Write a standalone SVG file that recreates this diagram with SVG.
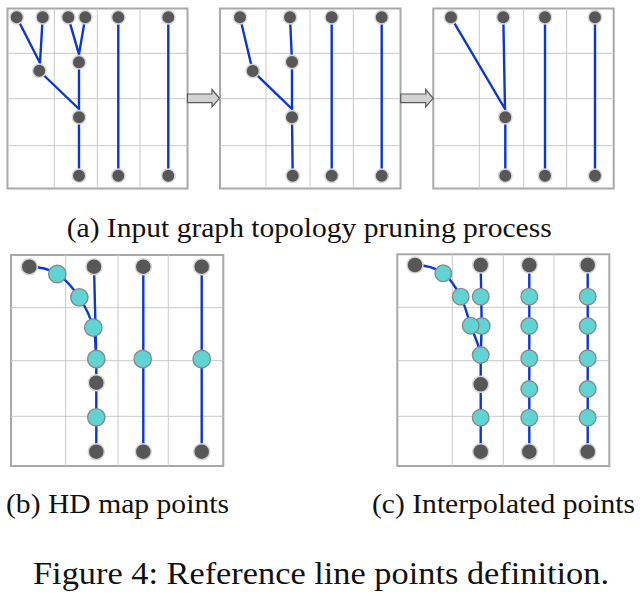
<svg xmlns="http://www.w3.org/2000/svg" width="642" height="594" viewBox="0 0 642 594">
<defs>
<style>
.box{fill:#fff;stroke:#a8a8a8;stroke-width:2}
.grid{stroke:#c8c8c8;stroke-width:1;fill:none}
.edge{stroke:#0a36d8;stroke-width:2.4;fill:none;stroke-linecap:round}
.dk{fill:#575757;stroke:#d6d6d6;stroke-width:1.5}
.cy{fill:#5fd4d2;stroke:#8a8a8a;stroke-width:1.4}
.arr{fill:#d2d2d2;stroke:#5a5a5a;stroke-width:1.2}
.cap{font-family:"Liberation Serif","Times New Roman",serif;fill:#111}
</style>
</defs>
<rect width="642" height="594" fill="#fff"/>

<!-- panel frames and grids -->
<g id="frames">
<rect class="box" x="7.5" y="8.5" width="180" height="180"/>
<path class="grid" d="M54.3,8.5V188.5M97.3,8.5V188.5M140,8.5V188.5M7.5,53.3H187.5M7.5,98.7H187.5M7.5,145.7H187.5"/>
<rect class="box" x="220" y="8.5" width="180.5" height="180"/>
<path class="grid" d="M266,8.5V188.5M310,8.5V188.5M353.3,8.5V188.5M220,53.3H400.5M220,98.7H400.5M220,145.7H400.5"/>
<rect class="box" x="433.3" y="8.5" width="180.4" height="180"/>
<path class="grid" d="M479.3,8.5V188.5M523.7,8.5V188.5M566.7,8.5V188.5M433.3,53.3H613.7M433.3,98.7H613.7M433.3,145.7H613.7"/>
<rect class="box" x="11" y="255" width="212.3" height="211"/>
<path class="grid" d="M65.7,255V466M118,255V466M168.3,255V466M11,307.7H223.3M11,360.7H223.3M11,416.3H223.3"/>
<rect class="box" x="397.3" y="254.3" width="212" height="211.7"/>
<path class="grid" d="M452.3,254.3V466M503.3,254.3V466M554,254.3V466M397.3,307.3H609.3M397.3,360.7H609.3M397.3,416.3H609.3"/>
<polygon class="arr" points="187.5,94 212,94 212,89.5 219.5,98.3 212,107 212,102.6 187.5,102.6"/>
<polygon class="arr" points="400.7,94 425.7,94 425.7,89.5 433.2,98.3 425.7,107 425.7,102.6 400.7,102.6"/>
</g>

<g id="connectors">
<!-- box 1 -->
<path class="edge" d="M16.7,17.3L40,63M42.7,17.3L40,63M68.3,17.3L79,54.3M85.3,17.3L79,54.3M79,54.3V175.7M39.3,71L79,109M118.3,17.3V175.7M168.3,17.3V175.7"/>
<!-- box 2 -->
<path class="edge" d="M240,17.3L252.7,71M290,17.3L292,62M292,62V117.3L292.7,175.7M252.7,71L292,109M331.7,17.3V175.7M381.7,17.3V175.7"/>
<!-- box 3 -->
<path class="edge" d="M451,17.3L505,109M503.3,17.3L505,109M505.3,109V175.7M545,17.3V175.7M595,17.3V175.7"/>
<!-- panel b -->
<path class="edge" d="M29.3,266.7C38.6,266.7 49,268.9 57.3,274C65.6,279.1 73.3,288.4 79.3,297.3C85.3,306.3 90.5,317.4 93.3,327.7C96.1,338 95.3,348.6 96.3,359"/>
<path class="edge" d="M94,266.7L96.3,359V451.7M143.3,266.7V451.7M201.7,266.7V451.7"/>
<!-- panel c -->
<path class="edge" d="M415,265C424.3,265 435.7,268 443.3,273.3C450.9,278.6 456.1,288 460.7,296.7C465.3,305.4 467.4,316 470.7,325.7C474,335.4 479.4,345.3 480.7,355"/>
<path class="edge" d="M480.7,265L481.7,326L480.7,355V451.7M529.3,265V451.7M587.7,265V451.7"/>
</g>

<!-- panel a nodes -->
<g id="a1n1"><circle class="dk" cx="16.7" cy="17.3" r="6.7"/></g>
<g id="a1n2"><circle class="dk" cx="42.7" cy="17.3" r="6.7"/></g>
<g id="a1n3"><circle class="dk" cx="68.3" cy="17.3" r="6.7"/></g>
<g id="a1n4"><circle class="dk" cx="85.3" cy="17.3" r="6.7"/></g>
<g id="a1n5"><circle class="dk" cx="118.3" cy="17.3" r="6.7"/></g>
<g id="a1n6"><circle class="dk" cx="168.3" cy="17.3" r="6.7"/></g>
<g id="a1n7"><circle class="dk" cx="39.3" cy="70.7" r="6.7"/></g>
<g id="a1n8"><circle class="dk" cx="79" cy="62.3" r="6.7"/></g>
<g id="a1n9"><circle class="dk" cx="79" cy="117.3" r="6.7"/></g>
<g id="a1n10"><circle class="dk" cx="79" cy="175.7" r="6.7"/></g>
<g id="a1n11"><circle class="dk" cx="118.3" cy="175.7" r="6.7"/></g>
<g id="a1n12"><circle class="dk" cx="168.3" cy="175.7" r="6.7"/></g>

<g id="a2n1"><circle class="dk" cx="240" cy="17.3" r="6.7"/></g>
<g id="a2n2"><circle class="dk" cx="290" cy="17.3" r="6.7"/></g>
<g id="a2n3"><circle class="dk" cx="331.7" cy="17.3" r="6.7"/></g>
<g id="a2n4"><circle class="dk" cx="381.7" cy="17.3" r="6.7"/></g>
<g id="a2n5"><circle class="dk" cx="252.7" cy="71" r="6.7"/></g>
<g id="a2n6"><circle class="dk" cx="292" cy="62" r="6.7"/></g>
<g id="a2n7"><circle class="dk" cx="292" cy="117.3" r="6.7"/></g>
<g id="a2n8"><circle class="dk" cx="292.7" cy="175.7" r="6.7"/></g>
<g id="a2n9"><circle class="dk" cx="331.7" cy="175.7" r="6.7"/></g>
<g id="a2n10"><circle class="dk" cx="381.7" cy="175.7" r="6.7"/></g>

<g id="a3n1"><circle class="dk" cx="451" cy="17.3" r="6.7"/></g>
<g id="a3n2"><circle class="dk" cx="503.3" cy="17.3" r="6.7"/></g>
<g id="a3n3"><circle class="dk" cx="545" cy="17.3" r="6.7"/></g>
<g id="a3n4"><circle class="dk" cx="595" cy="17.3" r="6.7"/></g>
<g id="a3n5"><circle class="dk" cx="505.3" cy="117.3" r="6.7"/></g>
<g id="a3n6"><circle class="dk" cx="505.3" cy="175.7" r="6.7"/></g>
<g id="a3n7"><circle class="dk" cx="545" cy="175.7" r="6.7"/></g>
<g id="a3n8"><circle class="dk" cx="595" cy="175.7" r="6.7"/></g>

<!-- panel b nodes -->
<g id="bd1"><circle class="dk" cx="29.3" cy="266.7" r="8"/></g>
<g id="bd2"><circle class="dk" cx="94" cy="266.7" r="8"/></g>
<g id="bd3"><circle class="dk" cx="143.3" cy="266.7" r="8"/></g>
<g id="bd4"><circle class="dk" cx="201.7" cy="266.7" r="8"/></g>
<g id="bd5"><circle class="dk" cx="96.3" cy="382.7" r="8"/></g>
<g id="bd6"><circle class="dk" cx="96.3" cy="451.7" r="8"/></g>
<g id="bd7"><circle class="dk" cx="143.3" cy="451.7" r="8"/></g>
<g id="bd8"><circle class="dk" cx="201.7" cy="451.7" r="8"/></g>
<g id="bc1"><circle class="cy" cx="57.3" cy="274" r="8.7"/></g>
<g id="bc2"><circle class="cy" cx="79.3" cy="297.3" r="8.7"/></g>
<g id="bc3"><circle class="cy" cx="93.3" cy="327.7" r="8.7"/></g>
<g id="bc4"><circle class="cy" cx="96.3" cy="359" r="8.7"/></g>
<g id="bc5"><circle class="cy" cx="142.7" cy="359" r="8.7"/></g>
<g id="bc6"><circle class="cy" cx="201.7" cy="359" r="8.7"/></g>
<g id="bc7"><circle class="cy" cx="96.3" cy="417.3" r="8.7"/></g>

<!-- panel c nodes -->
<g id="cd1"><circle class="dk" cx="415" cy="265" r="8"/></g>
<g id="cd2"><circle class="dk" cx="480.7" cy="265" r="8"/></g>
<g id="cd3"><circle class="dk" cx="529.3" cy="265" r="8"/></g>
<g id="cd4"><circle class="dk" cx="587.7" cy="265" r="8"/></g>
<g id="cd5"><circle class="dk" cx="480.7" cy="384.3" r="8"/></g>
<g id="cd6"><circle class="dk" cx="480.7" cy="451.7" r="8"/></g>
<g id="cd7"><circle class="dk" cx="529.3" cy="451.7" r="8"/></g>
<g id="cd8"><circle class="dk" cx="587.7" cy="451.7" r="8"/></g>
<g id="cc1"><circle class="cy" cx="480.7" cy="296.7" r="8.3"/></g>
<g id="cc2"><circle class="cy" cx="481.7" cy="326" r="8.3"/></g>
<g id="cc3"><circle class="cy" cx="480.7" cy="355" r="8.3"/></g>
<g id="cc4"><circle class="cy" cx="480.7" cy="417.7" r="8.3"/></g>
<g id="cc5"><circle class="cy" cx="529.3" cy="296.7" r="8.3"/></g>
<g id="cc6"><circle class="cy" cx="529.3" cy="326" r="8.3"/></g>
<g id="cc7"><circle class="cy" cx="529.3" cy="358.3" r="8.3"/></g>
<g id="cc8"><circle class="cy" cx="529.3" cy="389" r="8.3"/></g>
<g id="cc9"><circle class="cy" cx="529.3" cy="417.7" r="8.3"/></g>
<g id="cc10"><circle class="cy" cx="587.7" cy="296.7" r="8.3"/></g>
<g id="cc11"><circle class="cy" cx="587.7" cy="326" r="8.3"/></g>
<g id="cc12"><circle class="cy" cx="587.7" cy="358.3" r="8.3"/></g>
<g id="cc13"><circle class="cy" cx="587.7" cy="389" r="8.3"/></g>
<g id="cc14"><circle class="cy" cx="587.7" cy="417.7" r="8.3"/></g>
<g id="cc15"><circle class="cy" cx="443.3" cy="273.3" r="8.3"/></g>
<g id="cc16"><circle class="cy" cx="460.7" cy="296.7" r="8.3"/></g>
<g id="cc17"><circle class="cy" cx="470.7" cy="325.7" r="8.3"/></g>

<!-- captions -->
<g id="captions">
<text class="cap" x="66.7" y="237" font-size="28" textLength="485" lengthAdjust="spacingAndGlyphs">(a) Input graph topology pruning process</text>
<text class="cap" x="6" y="512.5" font-size="28" textLength="223" lengthAdjust="spacingAndGlyphs">(b) HD map points</text>
<text class="cap" x="372" y="512.5" font-size="28" textLength="263" lengthAdjust="spacingAndGlyphs">(c) Interpolated points</text>
<text class="cap" x="33" y="584" font-size="32" textLength="576" lengthAdjust="spacingAndGlyphs">Figure 4: Reference line points definition.</text>
</g>
</svg>
